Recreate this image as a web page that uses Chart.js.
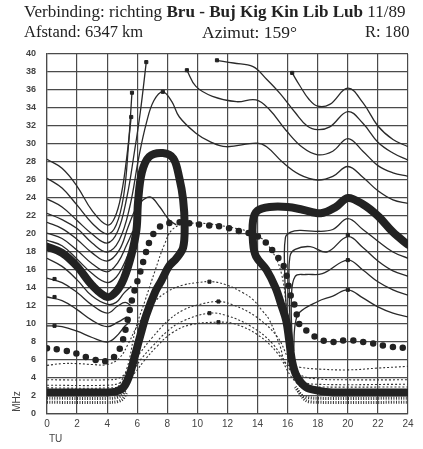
<!DOCTYPE html>
<html>
<head>
<meta charset="utf-8">
<script src="https://cdn.jsdelivr.net/npm/chart.js@4/dist/chart.umd.min.js"></script>
<style>
  body { margin: 0; background: #fff; }
  #wrap { position: relative; width: 423px; height: 449px; overflow: hidden; }
  canvas { position: absolute; left: 0; top: 0; }
  .hd { position: absolute; font-family: 'Liberation Serif', 'Times New Roman', serif; font-size: 16.5px; color: #222; white-space: nowrap; line-height: 18px; }
  .lbl { position: absolute; font-family: 'Liberation Sans', sans-serif; color: #444; font-size: 10px; }
</style>
</head>
<body>
<div id="wrap">
  <canvas id="chart" width="423" height="449"></canvas>
  <div class="hd" style="left:24px; top:3px; font-size:17.1px;">Verbinding: richting <b>Bru - Buj Kig Kin Lib Lub</b> 11/89</div>
  <div class="hd" style="left:24px; top:23px;">Afstand: 6347 km</div>
  <div class="hd" style="left:202px; top:23px; font-size:17.5px;">Azimut: 159°</div>
  <div class="hd" style="left:365px; top:23px;">R: 180</div>
  <div class="lbl" style="left:49px; top:433px;">TU</div>
  <div class="lbl" style="left:6px; top:396px; transform: rotate(-90deg);">MHz</div>
</div>
<script>
// hours (TU) / MHz
const xTicks = [0, 2, 4, 6, 8, 10, 12, 14, 16, 18, 20, 22, 24];
const yTicks = [0, 2, 4, 6, 8, 10, 12, 14, 16, 18, 20, 22, 24, 26, 28, 30, 32, 34, 36, 38, 40];

// thick boundary lines
const thickLeft = [[0,18.6],[1,17.9],[2,16.4],[3,14.3],[4,13.0],[4.6,13.6],[5.1,15],[5.6,17.6],[5.95,20.5],[6.05,23.5],[6.3,26.8],[6.8,28.6],[7.7,29.0],[8.4,28.4],[8.8,26.2],[9.05,23.8],[9.15,21],[9.05,18.5],[8.6,17.3],[8.1,16.4],[7.6,14.8],[7.2,13.6],[6.6,11],[6.2,8.7],[5.8,6.2],[5.5,4.4],[5.1,3.0],[4.6,2.5],[3.8,2.4],[0,2.4]];
const thickRight = [[24,18.8],[23,20.2],[22,22.0],[21,23.3],[20,24.0],[19.2,23.0],[18.2,22.3],[17,22.7],[16,23.0],[14.8,23.0],[14,22.6],[13.7,21.5],[13.7,19],[13.9,17.5],[14.6,16],[15.2,14],[15.6,12],[15.9,10.4],[16.1,8.2],[16.3,5.8],[16.6,4.2],[17.2,3.0],[18,2.6],[19,2.4],[24,2.4]];

// big dotted line
const dotted = [[0,7.3],[1,7.1],[2,6.7],[3,6.1],[4,5.9],[4.6,6.6],[5.0,8],[5.3,10],[5.7,13],[6.2,15.8],[6.5,17.5],[6.8,19.1],[7.2,20.3],[7.7,21.0],[8.5,21.3],[9.5,21.2],[10.4,21.0],[11.7,20.8],[12.6,20.4],[13.2,20.2],[13.8,19.9],[14.4,19.3],[15.3,17.5],[15.8,16.2],[16.0,14.7],[16.2,13.2],[16.5,11.9],[16.8,9.9],[17.5,9.0],[18.1,8.3],[19,8.0],[20,8.2],[21.4,7.9],[22.8,7.5],[24,7.3]];

// thin solid curves, left valley family
const v1 = [[0,28.3],[1,27.3],[2,25.3],[3,22.6],[4,21.0],[4.5,21.8],[4.95,24.5],[5.3,28.5],[5.6,33.0]];
const v2 = [[0,26.2],[1,25.1],[2,23.2],[3,21.2],[4,20.0],[4.6,21],[5.1,24.3],[5.4,29.5],[5.65,35.7]];
const v3 = [[0,23.9],[1,23.0],[2,21.5],[3,20.0],[4,19.0],[4.7,20.3],[5.3,24.0],[5.8,29],[6.2,33.5],[6.6,39.1]];
const v4 = [[0,22.3],[1,21.6],[2,20.6],[3,19.0],[4,18.0],[4.8,19.3],[5.5,23],[6.1,28.5],[6.6,32.3],[7.1,34.8],[7.7,35.8],[8.3,34.7],[8.8,33.0],[9.9,31.2],[10.8,30.3],[11.9,29.7],[13.9,30.1],[14.6,29.7],[15.65,28],[16.8,26.6],[18,26.0],[19,26.4],[20,27.5],[21,26.3],[22,24.8],[23,23.8],[24,23.4]];
const v5 = [[0,21.3],[1,20.6],[2,19.4],[3,17.9],[4,17.0],[4.8,18.2],[5.4,20.8],[5.9,22.8],[6.4,23.8],[6.9,24.1],[7.5,23.0],[8.1,21.6],[8.6,21]];
const v6 = [[0,20.1],[1,19.5],[2,18.2],[3,16.7],[4,15.8],[4.7,16.8],[5.3,18.8],[5.7,20.3]];
const v7 = [[0,19.3],[1,18.7],[2,17.2],[3,15.6],[4,14.6],[4.6,15.2],[5.1,16.6],[5.5,18.2]];
const f1 = [[0,17.3],[1,16.4],[2,14.9],[3,13.1],[4,12.2],[4.6,12.4],[5.1,13.4],[5.6,14.2]];
const f2 = [[0,15.1],[1,14.6],[2,13.5],[3,12.1],[4,11.2],[4.7,12],[5.2,12.4],[5.6,12.0]];
const f3 = [[0,13.0],[1,12.6],[2,11.6],[3,10.4],[4,9.7],[4.7,10.2],[5.3,10.8]];
const f4 = [[0,9.8],[1,9.7],[2,9.2],[3,8.5],[4,8.0],[4.6,8.6],[5.2,9.8],[5.5,10.2]];

// thin solid curves, top right family
const cQ = [[9.3,38.2],[9.9,36.4],[11,35.3],[12.6,34.7],[13.9,34.9],[14.8,33.8],[15.9,31.5],[17,29.6],[18,28.8],[19,29.2],[20,30.6],[21,29.2],[22,27.6],[23,26.8],[24,26.4]];
const cR = [[11.3,39.3],[12.4,39.0],[13.7,38.6],[14.6,37.2],[15.5,35.6],[16.5,33.5],[17.3,32.0],[18,31.6],[18.8,31.9],[20,33.6],[21,32.3],[22,30.2],[23,29],[24,28.2]];
const cS = [[16.3,37.9],[16.8,36.5],[17.4,35],[18,34.2],[18.8,34.4],[20,36.2],[21,34.6],[22,32],[23,30.5],[24,29.7]];

// thin solid curves, lower right family
const eA = [[16.1,8],[15.9,12],[15.8,16],[15.85,19.6],[16.2,20.2],[16.8,20.4],[17.9,20.3],[19,20.5],[20,21.7],[21,20.5],[22,19.2],[23,18.0],[24,17.3]];
const eB = [[16.2,8],[16.1,14],[16.15,17.5],[16.5,18.3],[17.5,18.6],[18.6,18.0],[20,19.7],[21,18.5],[22,17],[23,15.9],[24,15.3]];
const eC = [[16.3,8],[16.25,13],[16.5,15.3],[17.2,15.5],[18.3,15.6],[20,17.1],[21,16],[22,14.7],[23,13.8],[24,13.2]];
const eD = [[16.4,7],[16.5,10],[16.8,11.3],[18,12.5],[19,13.1],[20,13.8],[21,12.9],[22,11.9],[23,11.2],[24,10.8]];

// fine dashed curves
const d0 = [[4.6,2.6],[5.3,5],[5.9,9.5],[6.5,12.5],[7.2,16],[7.8,18.8],[8.4,20.6],[9.5,21.2],[12,20.8],[14,19.8],[15,18],[15.6,15.5],[15.9,12],[16.1,8],[16.3,5.5],[16.6,3.5],[17,2.8]];
const d1 = [[0,5.4],[1,5.6],[2,5.6],[3,5.5],[4,5.5],[4.8,6.2],[5.4,7.8],[6,9.8],[7,12.2],[8,13.6],[9,14.3],[10,14.6],[11,14.7],[12,14.3],[13,13.5],[13.7,12.7],[14.3,11.5],[14.8,10.4],[15.5,7.5],[15.9,5.6],[16.8,5.2],[18,5.0],[20,4.9],[22,5.1],[24,5.3]];
const d2 = [[0,3.8],[4,3.8],[4.8,4],[5.5,5],[6.2,6.8],[7,8.5],[8,10.3],[9,11.5],[10,12.1],[11.4,12.5],[12.4,12.1],[13.9,10.8],[15.3,8.6],[16.1,6],[16.8,4.4],[18,3.9],[20,3.8],[24,3.8]];
const d3 = [[0,3.2],[4,3.2],[4.9,3.5],[5.6,4.6],[6.3,6.2],[7,7.5],[8,9.2],[9,10.3],[10.8,11.2],[12,10.9],[13.5,9.8],[15,7.8],[16.2,4.8],[17,3.6],[18,3.3],[24,3.3]];
const d4 = [[0,2.9],[4,2.9],[5,3.2],[5.8,4.5],[6.5,6],[7.3,7.5],[8.3,9],[9.5,9.9],[11.4,10.2],[12.5,10],[14,8.8],[15.3,6.8],[16.3,4],[17,3.1],[18,3.0],[24,3.0]];

// ticked band under the thick line
const bandLeft1 = [[0,1.75],[4.3,1.75],[4.9,2.0],[5.2,2.6]];
const bandLeft2 = [[0,1.3],[4.4,1.3],[5.0,1.6],[5.3,2.4]];
const bandRight1 = [[16.5,3],[17,2.0],[17.8,1.75],[24,1.75]];
const bandRight2 = [[16.6,2.8],[17.2,1.5],[18,1.3],[24,1.3]];

// little curve label squares
const markers = [[6.6,39.1],[5.65,35.7],[5.6,33.0],[7.7,35.8],[9.3,38.2],[11.3,39.3],[16.3,37.9],[10.8,14.7],[11.4,12.5],[10.8,11.2],[11.4,10.2],[0.5,15.0],[0.5,13.0],[0.5,9.8],[20,19.9],[20,17.1],[20,13.8]];

const ink = '#222';

function pts(arr) {
    return arr.map(p => ({ x: p[0], y: p[1] }));
}

function solid(arr) {
    return { data: pts(arr), showLine: true, borderColor: '#2a2a2a', borderWidth: 1.3, pointRadius: 0, tension: 0.4, order: 5 };
}

function dashed(arr) {
    return { data: pts(arr), showLine: true, borderColor: '#333', borderWidth: 1.1, borderDash: [2, 2], pointRadius: 0, tension: 0.4, order: 6 };
}

function band(arr) {
    return { data: pts(arr), showLine: true, borderColor: '#333', borderWidth: 3, borderDash: [1, 1.5], pointRadius: 0, tension: 0.3, order: 4 };
}

const datasets = [
    { data: pts(thickLeft), showLine: true, borderColor: ink, borderWidth: 8, pointRadius: 0, tension: 0.35, borderJoinStyle: 'round', borderCapStyle: 'round', order: 0 },
    { data: pts(thickRight), showLine: true, borderColor: ink, borderWidth: 8, pointRadius: 0, tension: 0.35, borderJoinStyle: 'round', borderCapStyle: 'round', order: 0 },
    { data: pts(dotted), showLine: true, borderColor: ink, borderWidth: 6.5, borderDash: [0, 10], borderCapStyle: 'round', pointRadius: 0, tension: 0.4, order: 1 },
    { data: pts(markers), showLine: false, pointStyle: 'rect', pointRadius: 2.2, backgroundColor: ink, borderColor: ink, order: 2 },
    solid(v1), solid(v2), solid(v3), solid(v4), solid(v5), solid(v6), solid(v7),
    solid(f1), solid(f2), solid(f3), solid(f4),
    solid(cQ), solid(cR), solid(cS),
    solid(eA), solid(eB), solid(eC), solid(eD),
    dashed(d0), dashed(d1), dashed(d2), dashed(d3), dashed(d4),
    band(bandLeft1), band(bandLeft2), band(bandRight1), band(bandRight2)
];

const gridColor = '#4a4a4a';

new Chart(document.getElementById('chart'), {
    type: 'scatter',
    data: { datasets: datasets },
    options: {
        responsive: false,
        animation: false,
        devicePixelRatio: 1,
        layout: { padding: { top: 54, right: 15, left: 0, bottom: 0 } },
        plugins: { legend: { display: false }, tooltip: { enabled: false } },
        scales: {
            x: {
                type: 'linear', min: 0, max: 24,
                afterFit: s => { s.height = 35; },
                afterBuildTicks: s => { s.ticks = xTicks.map(v => ({ value: v })); },
                ticks: { padding: 4, color: '#444', font: { family: 'Liberation Sans', size: 10 }, maxRotation: 0, autoSkip: false },
                grid: { color: gridColor, lineWidth: 1.2, drawTicks: false },
                border: { color: gridColor, width: 1.2 }
            },
            y: {
                type: 'linear', min: 0, max: 40,
                afterFit: s => { s.width = 47; },
                afterBuildTicks: s => { s.ticks = yTicks.map(v => ({ value: v })); },
                ticks: { padding: 11, color: '#444', font: { family: 'Liberation Sans', size: 9, weight: 'bold' }, autoSkip: false },
                grid: { color: gridColor, lineWidth: 1.2, drawTicks: false },
                border: { color: gridColor, width: 1.2 }
            }
        }
    }
});
</script>
</body>
</html>
